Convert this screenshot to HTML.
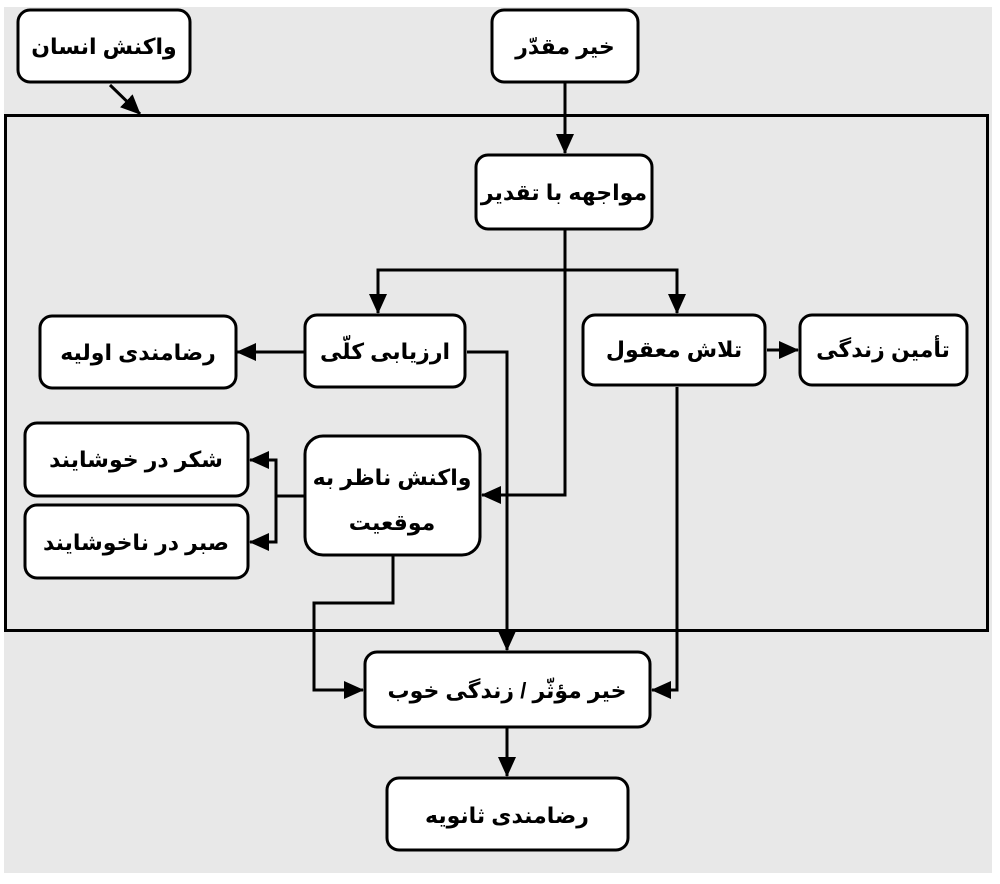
<!DOCTYPE html>
<html><head><meta charset="utf-8"><style>
html,body{margin:0;padding:0;background:#fff;}
svg{display:block;}
text{font-family:"Liberation Sans","DejaVu Sans",sans-serif;font-weight:bold;font-size:22px;fill:#000;}
</style></head><body>
<svg width="1000" height="884" viewBox="0 0 1000 884" xmlns="http://www.w3.org/2000/svg">
<defs><marker id="a" markerWidth="8" markerHeight="8" refX="7" refY="4" orient="auto" markerUnits="userSpaceOnUse" viewBox="0 0 8 8"><path d="M0,0 L8,4 L0,8z" fill="#000"/></marker>
<marker id="b" markerWidth="20" markerHeight="18" refX="19" refY="9" orient="auto" markerUnits="userSpaceOnUse"><path d="M0,0 L20,9 L0,18z" fill="#000"/></marker></defs>
<rect x="4" y="7" width="988" height="866" fill="#e8e8e8"/>
<rect x="5.5" y="115.5" width="982" height="515" fill="none" stroke="#000" stroke-width="3"/>
<g fill="#fff" stroke="#000" stroke-width="3">
<rect x="18" y="10" width="172" height="72" rx="12"/>
<rect x="492" y="10" width="146" height="72" rx="12"/>
<rect x="476" y="155" width="176" height="74" rx="12"/>
<rect x="305" y="315" width="160" height="72" rx="12"/>
<rect x="40" y="316" width="196" height="72" rx="12"/>
<rect x="583" y="315" width="182" height="70" rx="12"/>
<rect x="800" y="315" width="167" height="70" rx="12"/>
<rect x="305" y="436" width="175" height="119" rx="18"/>
<rect x="25" y="423" width="223" height="73" rx="12"/>
<rect x="25" y="505" width="223" height="73" rx="12"/>
<rect x="365" y="652" width="285" height="75" rx="12"/>
<rect x="387" y="778" width="241" height="72" rx="12"/>
</g>
<g fill="none" stroke="#000" stroke-width="3" marker-end="url(#b)">
<path d="M110,85 L140,114"/>
<path d="M565,82 L565,153"/>
<path d="M565,229 L565,495 L482,495"/>
<path d="M565,270 L378,270 L378,313"/>
<path d="M565,270 L677,270 L677,313"/>
<path d="M305,352 L237,352"/>
<path d="M467,352 L507,352 L507,650"/>
<path d="M767,350 L798,350"/>
<path d="M677,387 L677,690 L652,690"/>
<path d="M305,496 L276,496 L276,460 L250,460"/>
<path d="M276,496 L276,542 L250,542"/>
<path d="M393,555 L393,603 L314,603 L314,690 L363,690"/>
<path d="M507,727 L507,776"/>
</g>
<g text-anchor="middle" direction="rtl">
<text x="104" y="54">واکنش انسان</text>
<text x="565" y="54">خیر مقدّر</text>
<text x="564" y="200">مواجهه با تقدیر</text>
<text x="385" y="359">ارزیابی کلّی</text>
<text x="138" y="360">رضامندی اولیه</text>
<text x="674" y="357">تلاش معقول</text>
<text x="883" y="357">تأمین زندگی</text>
<text x="392" y="485">واکنش ناظر به</text>
<text x="392" y="530">موقعیت</text>
<text x="136" y="467">شکر در خوشایند</text>
<text x="136" y="550">صبر در ناخوشایند</text>
<text x="507" y="698">خیر مؤثّر / زندگی خوب</text>
<text x="507" y="823">رضامندی ثانویه</text>
</g>
</svg>
</body></html>
